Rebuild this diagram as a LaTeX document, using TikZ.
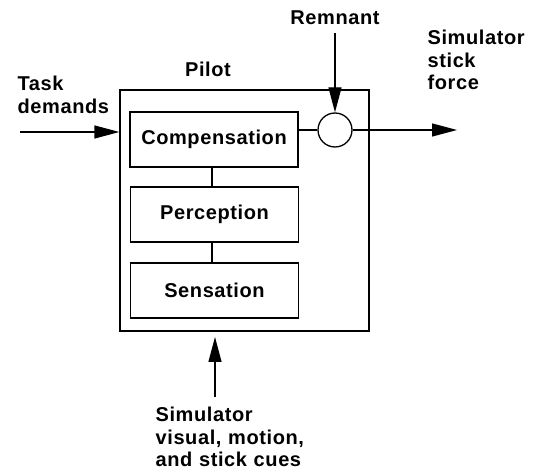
\documentclass[tikz,border=0pt]{standalone}
\usepackage{fontspec}
\setmainfont{Liberation Sans}[LetterSpace=3]
\usetikzlibrary{arrows.meta}

\begin{document}
\begin{tikzpicture}[x=1pt, y=-1pt, line width=1.3pt,
    txt/.style={font=\fontsize{20}{22.5}\selectfont\bfseries, inner sep=0pt},
    block/.style={draw, txt, minimum width=168pt, minimum height=55pt},
    arr/.style={-{Triangle[length=25pt, width=13pt]}}]
            \useasboundingbox (0,0) rectangle (536,470);
            % Define pilot and blocks
            \node[draw, minimum width=249pt, minimum height=241pt] (pilotbox) at (244.5,210.5) {};
            \node[block] (comp) at (214,139.5) {Compensation};
            \node[block] (perc) at (214.5,214.5) {Perception};
            \node[block] (sens) at (214.5,290.5) {Sensation};
            \node[draw, circle, minimum size=34pt, inner sep=0pt] (sum) at (335,130) {};
            % Define labels
            \node[txt, anchor=base] (pilot) at (208,77) {Pilot};
            \node[txt, anchor=base] (remnant) at (335,25) {Remnant};
            \node[txt, anchor=base west, align=left, text width=100pt] (task) at (17,91) {Task\\demands};
            \node[txt, anchor=base west, align=left, text width=110pt] (force) at (427,45) {Simulator\\stick\\force};
            \node[txt, anchor=base west, align=left, text width=170pt] (cues) at (155,422) {Simulator\\visual, motion,\\and stick cues};
            \coordinate (taskin) at (20,132);
            \coordinate (out) at (457,130);
            \coordinate (cuesin) at (215,397);
            % Draw connections
            \draw (comp.south -| 212,0) -- (perc.north -| 212,0);
            \draw (perc.south -| 212,0) -- (sens.north -| 212,0);
            \draw (sum.west) -- (sum.west -| comp.east);
            \draw[arr] (taskin) -- (taskin -| pilotbox.west);
            \draw[arr] (sum.east) -- (out);
            \draw[arr] (remnant.south |- 0,33) -- (sum.north);
            \draw[arr] (cuesin) -- (cuesin |- 0,337);
        \end{tikzpicture}
\end{document}
